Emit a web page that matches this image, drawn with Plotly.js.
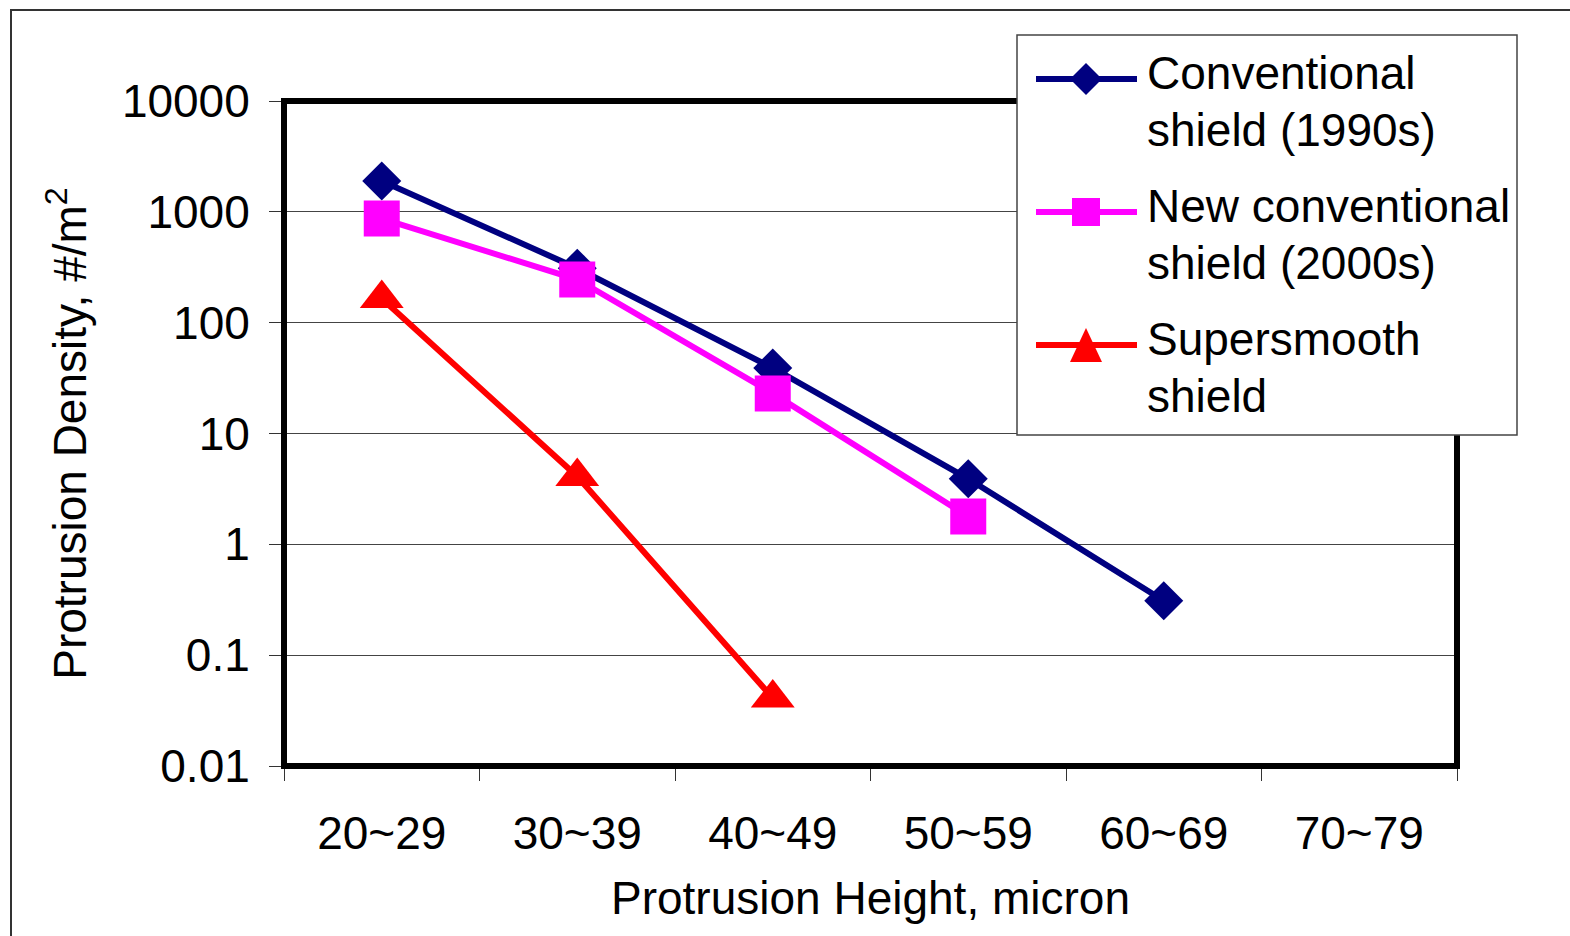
<!DOCTYPE html>
<html>
<head>
<meta charset="utf-8">
<script src="https://cdn.plot.ly/plotly-3.0.1.min.js"></script>
<style>html,body{margin:0;padding:0;background:#fff;}#chart{width:1570px;height:936px;}</style>
</head>
<body>
<div id="chart"></div>
<script>
// ---- data ----
const categories = ['20~29', '30~39', '40~49', '50~59', '60~69', '70~79'];
const conventional = [1900, 310, 39, 3.9, 0.31, null];
const newConventional = [870, 245, 23, 1.78, null, null];
const supersmooth = [165, 4.1, 0.041, null, null, null];
const seriesNames = ['Conventional shield (1990s)', 'New conventional shield (2000s)', 'Supersmooth shield'];
const legendLines = [['Conventional', 'shield (1990s)'], ['New conventional', 'shield (2000s)'], ['Supersmooth', 'shield']];
const yTickVals = [0.01, 0.1, 1, 10, 100, 1000, 10000];
const yTickText = ['0.01', '0.1', '1', '10', '100', '1000', '10000'];
const xTitle = 'Protrusion Height, micron';
const yTitle = 'Protrusion Density, #/m<sup>2</sup>';

// ---- styles ----
const FONT = 'Liberation Sans, Arial, sans-serif';
const colors = ['#000080', '#FF00FF', '#FF0000'];
const symbols = ['diamond', 'square', 'triangle-up'];
const sizes = [30, 36, 38];

const W = 1570, H = 936;
const L = 284, R = 1457, T = 101, B = 766;
const PX = px => (px - L) / (R - L);
const PY = py => (B - py) / (B - T);

const traces = [conventional, newConventional, supersmooth].map((ys, i) => ({
  type: 'scatter', mode: 'lines+markers', name: seriesNames[i],
  x: categories, y: ys,
  line: {color: colors[i], width: 6},
  marker: {color: colors[i], symbol: symbols[i], size: sizes[i], line: {width: 0}},
  showlegend: false, cliponaxis: false
}));

const shapes = [];
// outer frame
shapes.push({type: 'rect', xref: 'paper', yref: 'paper', x0: PX(11), y0: PY(10), x1: PX(1700), y1: PY(1100),
  line: {color: '#333', width: 2}, fillcolor: 'rgba(0,0,0,0)', layer: 'above'});
// plot border
shapes.push({type: 'rect', xref: 'paper', yref: 'paper', x0: 0, y0: 0, x1: 1, y1: 1,
  line: {color: '#000', width: 6}, fillcolor: 'rgba(0,0,0,0)', layer: 'above'});
// legend box
shapes.push({type: 'rect', xref: 'paper', yref: 'paper', x0: PX(1017), y0: PY(435), x1: PX(1517), y1: PY(35),
  line: {color: '#444', width: 1.5}, fillcolor: '#fff', layer: 'above'});
const legY = [79, 212, 345];
const cx = 1086;
legY.forEach((yy, i) => {
  shapes.push({type: 'line', xref: 'paper', yref: 'paper', x0: PX(1036), x1: PX(1137), y0: PY(yy), y1: PY(yy),
    line: {color: colors[i], width: 6}, layer: 'above'});
});
// legend markers
(function(){
  const d = 16, s = 14, th = 17, tw = 16;
  shapes.push({type: 'path', xref: 'paper', yref: 'paper', layer: 'above', fillcolor: colors[0], line: {width: 0},
    path: `M${PX(cx)},${PY(legY[0]-d)} L${PX(cx+d)},${PY(legY[0])} L${PX(cx)},${PY(legY[0]+d)} L${PX(cx-d)},${PY(legY[0])} Z`});
  shapes.push({type: 'path', xref: 'paper', yref: 'paper', layer: 'above', fillcolor: colors[1], line: {width: 0},
    path: `M${PX(cx-s)},${PY(legY[1]-s)} L${PX(cx+s)},${PY(legY[1]-s)} L${PX(cx+s)},${PY(legY[1]+s)} L${PX(cx-s)},${PY(legY[1]+s)} Z`});
  shapes.push({type: 'path', xref: 'paper', yref: 'paper', layer: 'above', fillcolor: colors[2], line: {width: 0},
    path: `M${PX(cx)},${PY(legY[2]-th)} L${PX(cx+tw)},${PY(legY[2]+th)} L${PX(cx-tw)},${PY(legY[2]+th)} Z`});
})();

const annotations = [];
const lineCenters = [[73, 130], [206, 263], [339, 396]];
legendLines.forEach((lines, i) => {
  lines.forEach((t, j) => {
    annotations.push({xref: 'paper', yref: 'paper', x: PX(1145), y: PY(lineCenters[i][j]),
      xanchor: 'left', yanchor: 'middle', showarrow: false, text: t,
      font: {family: FONT, size: 46, color: '#000'}});
  });
});

const layout = {
  width: W, height: H,
  margin: {l: L, r: W - R, t: T, b: H - B, pad: 0},
  paper_bgcolor: '#fff', plot_bgcolor: '#fff',
  showlegend: false,
  font: {family: FONT, color: '#000', size: 46},
  xaxis: {
    type: 'category', categoryorder: 'array', categoryarray: categories,
    range: [-0.5, categories.length - 0.5],
    showgrid: false, zeroline: false, showline: false,
    ticks: 'outside', tickson: 'boundaries', ticklen: 14, tickwidth: 1, tickcolor: '#333',
    tickfont: {family: FONT, size: 46, color: '#000'},
    ticklabelstandoff: 36,
    title: {text: xTitle, font: {family: FONT, size: 46, color: '#000'}, standoff: 23},
    automargin: false, fixedrange: true
  },
  yaxis: {
    type: 'log', range: [-2, 4],
    tickvals: yTickVals, ticktext: yTickText,
    showgrid: true, gridcolor: '#444', gridwidth: 1,
    zeroline: false, showline: false,
    ticks: 'outside', ticklen: 14, tickwidth: 1, tickcolor: '#333',
    tickfont: {family: FONT, size: 46, color: '#000'},
    ticklabelstandoff: 10,
    title: {text: yTitle, font: {family: FONT, size: 46, color: '#000'}, standoff: 20},
    automargin: false, fixedrange: true
  },
  shapes: shapes,
  annotations: annotations
};

Plotly.newPlot('chart', traces, layout, {displayModeBar: false, staticPlot: true});
</script>
</body>
</html>
